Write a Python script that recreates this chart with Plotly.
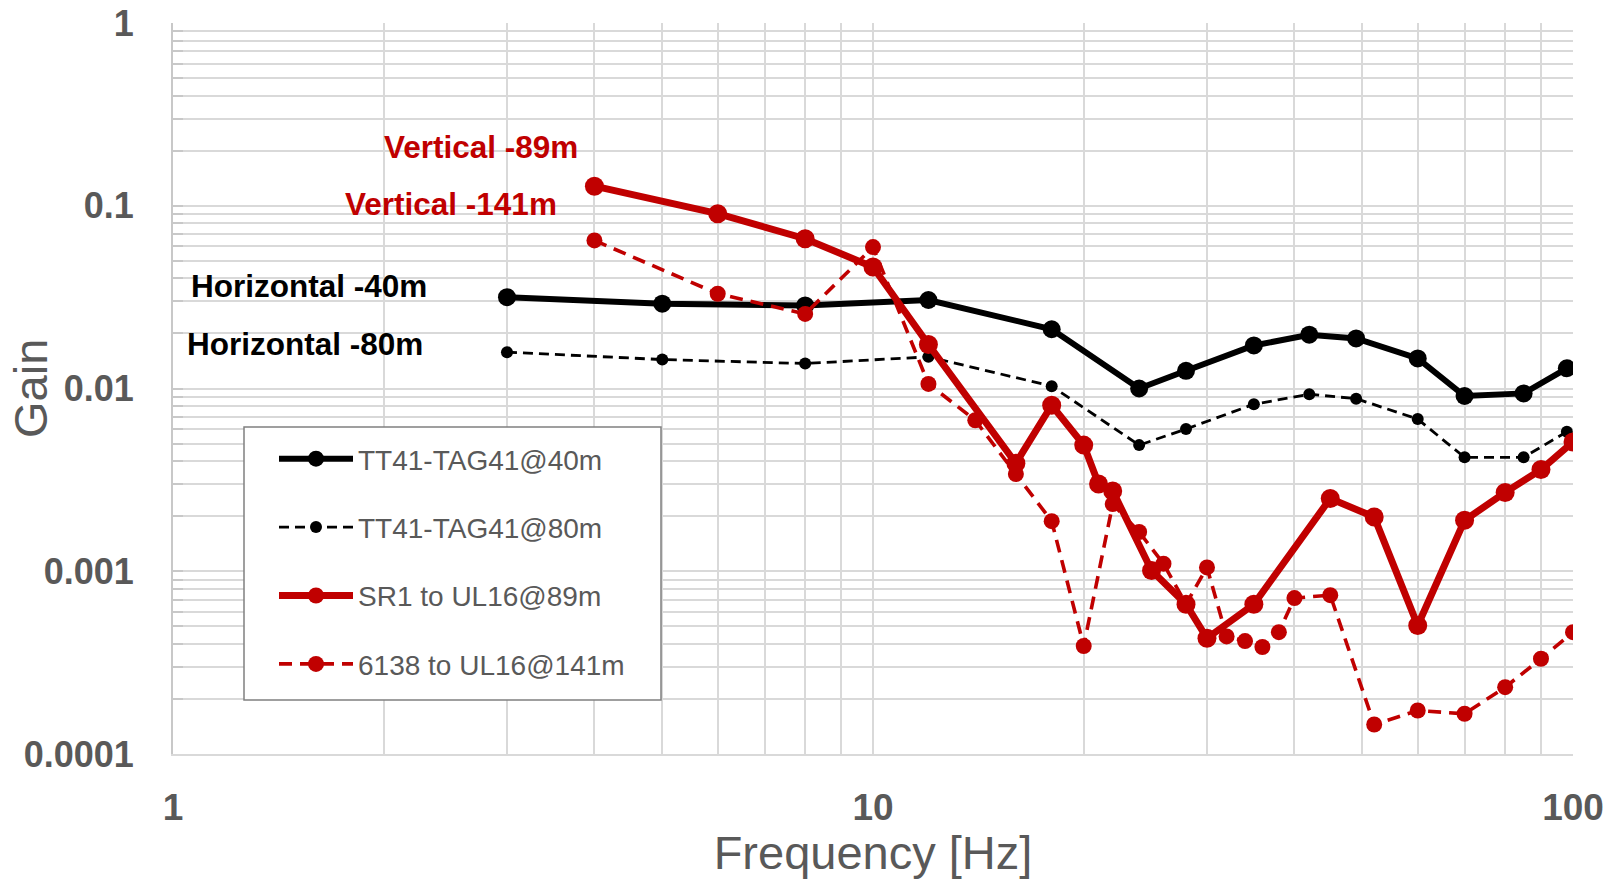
import plotly.graph_objects as go

# ---------------- data ----------------
black40_x = [3, 5, 8, 12, 18, 24, 28, 35, 42, 49, 60, 70, 85, 98]
black40_y = [0.0316, 0.0291, 0.0285, 0.0305, 0.0211, 0.0100, 0.0125, 0.0172, 0.0197, 0.0188, 0.0146, 0.0091, 0.0094, 0.0129]

black80_x = [3, 5, 8, 12, 18, 24, 28, 35, 42, 49, 60, 70, 85, 98]
black80_y = [0.0158, 0.0144, 0.0137, 0.0149, 0.0103, 0.0049, 0.0060, 0.0082, 0.0093, 0.0088, 0.0068, 0.0042, 0.0042, 0.0058]

red89_x = [4, 6, 8, 10, 12, 16, 18, 20, 21, 22, 25, 28, 30, 35, 45, 52, 60, 70, 80, 90, 100]
red89_y = [0.128, 0.0905, 0.066, 0.0462, 0.0174, 0.0039, 0.0081, 0.0049, 0.0030, 0.00275, 0.00101, 0.00066,
           0.00043, 0.00066, 0.0025, 0.00198, 0.000505, 0.0019, 0.0027, 0.0036, 0.0051]

red141_x = [4, 6, 8, 10, 12, 14, 16, 18, 20, 22, 24, 26, 28, 30, 32, 34, 36, 38, 40, 45, 52, 60, 70, 80, 90, 100]
red141_y = [0.0646, 0.033, 0.0256, 0.0594, 0.0106, 0.0067, 0.0034, 0.00188, 0.00039, 0.00233, 0.00164, 0.0011,
            0.00066, 0.00105, 0.00044, 0.000415, 0.000385, 0.000464, 0.000713, 0.00074, 0.000145, 0.000173,
            0.000166, 0.000232, 0.000332, 0.000464]

series_names = ["TT41-TAG41@40m", "TT41-TAG41@80m", "SR1 to UL16@89m", "6138 to UL16@141m"]

x_tickvals = [1, 10, 100]
x_ticktext = ["1", "10", "100"]
y_tickvals = [0.0001, 0.001, 0.01, 0.1, 1]
y_ticktext = ["0.0001", "0.001", "0.01", "0.1", "1"]

annotation_texts = ["Vertical -89m", "Vertical -141m", "Horizontal -40m", "Horizontal -80m"]

# ---------------- styles ----------------
RED = "#C00000"
BLACK = "#000000"
GRID = "#d9d9d9"
LABEL = "#595959"
FONT = "Liberation Sans, Arial, sans-serif"

fig = go.Figure()

fig.add_trace(go.Scatter(x=black40_x, y=black40_y, name=series_names[0], legendgroup="a", legendrank=1,
                         mode="lines+markers", line=dict(color=BLACK, width=6),
                         marker=dict(size=18, color=BLACK)))
fig.add_trace(go.Scatter(x=black80_x, y=black80_y, name=series_names[1], legendgroup="b", legendrank=2,
                         mode="lines+markers", line=dict(color=BLACK, width=2.8, dash="10px,6px"),
                         marker=dict(size=12, color=BLACK)))
fig.add_trace(go.Scatter(x=red141_x, y=red141_y, name=series_names[3], legendgroup="d", legendrank=4,
                         mode="lines+markers", line=dict(color=RED, width=3.6, dash="13px,8px"),
                         marker=dict(size=16, color=RED)))
fig.add_trace(go.Scatter(x=red89_x, y=red89_y, name=series_names[2], legendgroup="c", legendrank=3,
                         mode="lines+markers", line=dict(color=RED, width=7),
                         marker=dict(size=19, color=RED)))

minor_x = [m * 10 ** d for d in range(0, 2) for m in range(2, 10)]
minor_y = [m * 10.0 ** d for d in range(-4, 0) for m in range(2, 10)]

fig.update_xaxes(
    type="log", range=[0, 2], automargin=False,
    tickmode="array", tickvals=x_tickvals, ticktext=x_ticktext,
    showgrid=True, gridcolor=GRID, gridwidth=1.6,
    showline=True, linecolor=GRID, linewidth=2,
    ticks="", ticklabelstandoff=20,
    tickfont=dict(family=FONT, size=37, color=LABEL, weight="bold"),
    minor=dict(tickmode="array", tickvals=minor_x, showgrid=True, gridcolor=GRID, gridwidth=1.6, ticks=""),
    zeroline=False,
    title=dict(text="Frequency [Hz]", font=dict(family=FONT, size=47, color=LABEL), standoff=10),
)
fig.update_yaxes(
    type="log", range=[-4, 0], automargin=False,
    tickmode="array", tickvals=y_tickvals, ticktext=y_ticktext,
    showgrid=True, gridcolor=GRID, gridwidth=1.6,
    showline=True, linecolor="#c8c8c8", linewidth=2,
    ticks="inside", ticklen=10, tickcolor="#c8c8c8", tickwidth=1.6,
    ticklabelstandoff=30,
    tickfont=dict(family=FONT, size=36, color=LABEL, weight="bold"),
    minor=dict(tickmode="array", tickvals=minor_y, showgrid=True, gridcolor=GRID, gridwidth=1.6,
               ticks="inside", ticklen=10, tickcolor="#c8c8c8", tickwidth=1.6),
    zeroline=False,
)

# plot area in pixels: x 173..1573, y 23..754
L, R, T, B = 173, 39, 23, 125
W, H = 1612, 879
pw, ph = W - L - R, H - T - B


def px2paper(px, py):
    return (px - L) / pw, (H - B - py) / ph


ann_pos = [(481, 147, RED), (451, 204, RED), (309, 286, BLACK), (305, 344, BLACK)]
for txt, (ax, ay, col) in zip(annotation_texts, ann_pos):
    xp, yp = px2paper(ax, ay)
    fig.add_annotation(x=xp, y=yp, xref="paper", yref="paper", text="<b>" + txt + "</b>",
                       showarrow=False, xanchor="center", yanchor="middle",
                       font=dict(family=FONT, size=31.5, color=col))

# y axis title as rotated text
gx, gy = px2paper(30, 389)
fig.add_annotation(x=gx, y=gy, xref="paper", yref="paper", text="Gain", textangle=-90,
                   showarrow=False, xanchor="center", yanchor="middle",
                   font=dict(family=FONT, size=47, color=LABEL))

# legend box
x0, y1 = px2paper(244, 427)
x1, y0 = px2paper(661, 700)
fig.add_shape(type="rect", xref="paper", yref="paper", x0=x0, x1=x1, y0=y0, y1=y1,
              line=dict(color="#808080", width=1.5), fillcolor="white", layer="above")

lx, ly = px2paper(274, 434)
fig.update_layout(
    width=W, height=H,
    margin=dict(l=L, r=R, t=T, b=B, pad=0, autoexpand=False),
    paper_bgcolor="white", plot_bgcolor="white",
    showlegend=True,
    legend=dict(x=lx, y=ly, xanchor="left", yanchor="top", bgcolor="rgba(0,0,0,0)",
                borderwidth=0, font=dict(family=FONT, size=28, color=LABEL),
                traceorder="grouped", tracegroupgap=29, itemwidth=74),
)

fig.write_html("out.html", config={"displayModeBar": False},
               post_script="document.body.style.margin='0px';document.body.style.overflow='hidden';")
